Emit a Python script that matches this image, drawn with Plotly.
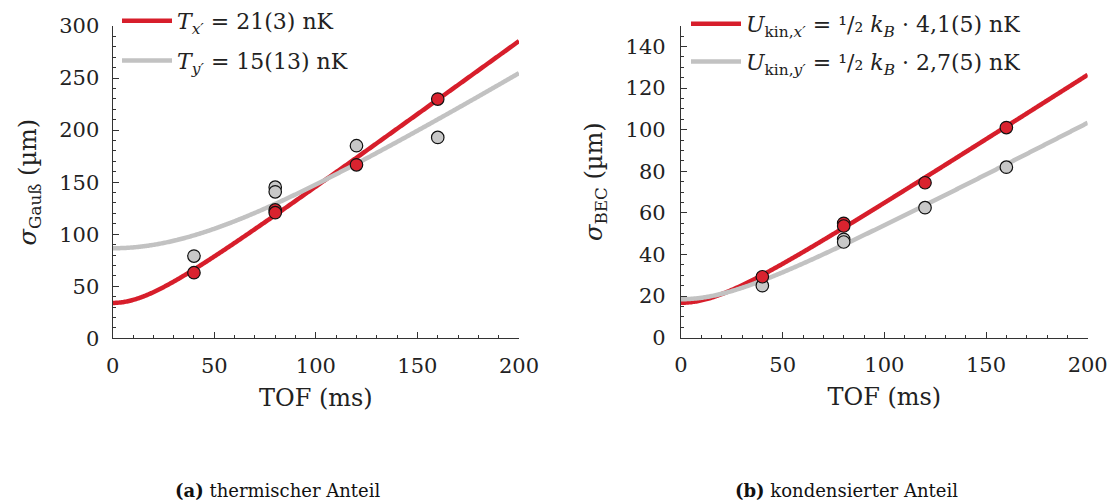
import numpy as np
import plotly.graph_objects as go

# ---- data ----
tof_points = [40, 80, 80, 120, 160]  # ms
gauss_x = [63, 123.3, 120.7, 166.6, 229.8]   # µm, red
gauss_y = [79, 145.2, 140.7, 185, 193]       # µm, gray
bec_x = [29.3, 55.0, 53.7, 74.5, 101]        # µm, red
bec_y = [25, 47.3, 46.0, 62.5, 82]           # µm, gray

# fit parameters (ballistic expansion, Rb-87): sigma0 (µm), T (nK)
fit_gauss_x = (34.0, 21.0)
fit_gauss_y = (86.5, 15.0)
fit_bec_x = (16.8, 4.1)
fit_bec_y = (18.5, 2.7)

KB_OVER_M = 0.09567  # µm^2 / (ms^2 nK) for Rb-87

legend_gauss = ["<i>T</i><sub><i>x′</i></sub> = 21(3) nK",
                "<i>T</i><sub><i>y′</i></sub> = 15(13) nK"]
legend_bec = ["<i>U</i><sub>kin,<i>x′</i></sub> = ¹/₂ <i>k</i><sub><i>B</i></sub> · 4,1(5) nK",
              "<i>U</i><sub>kin,<i>y′</i></sub> = ¹/₂ <i>k</i><sub><i>B</i></sub> · 2,7(5) nK"]
captions = ["<b>(a)</b> thermischer Anteil", "<b>(b)</b> kondensierter Anteil"]
ytitles = ["<i>σ</i><sub>Gauß</sub> (µm)", "<i>σ</i><sub>BEC</sub> (µm)"]
xtitle = "TOF (ms)"

RED = "#D71E2B"
RED_FILL = "#D9232F"
GRAY = "#C2C2C2"
GRAY_FILL = "#C8C8C8"
FONT = "DejaVu Serif"

t_fit = np.linspace(0, 200, 401)


def model(p):
    s0, T = p
    return np.sqrt(s0 ** 2 + KB_OVER_M * T * t_fit ** 2)


fig = go.Figure()

panels = [
    ("x", "y", "legend", fit_gauss_x, fit_gauss_y, gauss_x, gauss_y, legend_gauss),
    ("x2", "y2", "legend2", fit_bec_x, fit_bec_y, bec_x, bec_y, legend_bec),
]
for i, (xa, ya, lg, fx, fy, px, py, names) in enumerate(panels):
    fig.add_trace(go.Scatter(x=t_fit, y=model(fx), mode="lines", xaxis=xa, yaxis=ya,
                             line=dict(color=RED, width=4.5, simplify=False),
                             name=names[0], legend=lg, legendgroup=f"r{i}",
                             hoverinfo="skip"))
    fig.add_trace(go.Scatter(x=t_fit, y=model(fy), mode="lines", xaxis=xa, yaxis=ya,
                             line=dict(color=GRAY, width=4.5, simplify=False),
                             name=names[1], legend=lg, legendgroup=f"g{i}",
                             hoverinfo="skip"))
    fig.add_trace(go.Scatter(x=tof_points, y=py, mode="markers", xaxis=xa, yaxis=ya,
                             marker=dict(size=12.5, color=GRAY_FILL,
                                         line=dict(color="#111", width=1.2)),
                             showlegend=False))
    fig.add_trace(go.Scatter(x=tof_points, y=px, mode="markers", xaxis=xa, yaxis=ya,
                             marker=dict(size=12.5, color=RED_FILL,
                                         line=dict(color="#111", width=1.2)),
                             showlegend=False))

W, H = 1114, 502
axis_common = dict(
    showline=True, linecolor="#333", linewidth=1.3, mirror=False,
    ticks="inside", ticklen=6, tickwidth=1, tickcolor="#333",
    showgrid=False, zeroline=False,
    tickfont=dict(family=FONT, size=21, color="#222"),
    automargin=False,
)

fig.update_layout(
    width=W, height=H,
    margin=dict(l=0, r=0, t=0, b=0),
    paper_bgcolor="white", plot_bgcolor="white",
    font=dict(family=FONT, color="#222"),
    xaxis=dict(domain=[112.7 / W, 519 / W], range=[0, 200], dtick=50, tick0=0,
               minor=dict(dtick=10, ticks="inside", ticklen=3, tickcolor="#333"),
               ticklabelstandoff=8,
               title=dict(text=xtitle, font=dict(family=FONT, size=24), standoff=12),
               anchor="y", **axis_common),
    yaxis=dict(domain=[(H - 338.3) / H, (H - 26) / H], range=[0, 300], dtick=50, tick0=0,
               minor=dict(dtick=10, ticks="inside", ticklen=3, tickcolor="#333"),
               ticklabelstandoff=8,
               title=dict(text=ytitles[0], font=dict(family=FONT, size=24), standoff=15),
               anchor="x", **axis_common),
    xaxis2=dict(domain=[681 / W, 1087.7 / W], range=[0, 200], dtick=50, tick0=0,
                minor=dict(dtick=10, ticks="inside", ticklen=3, tickcolor="#333"),
                ticklabelstandoff=8,
                title=dict(text=xtitle, font=dict(family=FONT, size=24), standoff=12),
                anchor="y2", **axis_common),
    yaxis2=dict(domain=[(H - 337.7) / H, (H - 25.7) / H], range=[0, 150],
                tickvals=[0, 20, 40, 60, 80, 100, 120, 140],
                minor=dict(dtick=5, ticks="inside", ticklen=3, tickcolor="#333"),
                ticklabelstandoff=10,
                title=dict(text=ytitles[1], font=dict(family=FONT, size=24), standoff=16),
                anchor="x2", **axis_common),
    legend=dict(x=117 / W, y=1.0, xanchor="left", yanchor="top",
                bgcolor="rgba(0,0,0,0)", itemwidth=50, tracegroupgap=8,
                traceorder="grouped",
                font=dict(family=FONT, size=22, color="#222")),
    legend2=dict(x=686 / W, y=(H - 3) / H, xanchor="left", yanchor="top",
                 bgcolor="rgba(0,0,0,0)", itemwidth=50, tracegroupgap=6,
                 traceorder="grouped",
                 font=dict(family=FONT, size=22, color="#222")),
    showlegend=True,
)

for txt, cx in zip(captions, [277, 846]):
    fig.add_annotation(text=txt, x=cx / W, y=(H - 490) / H, xref="paper", yref="paper",
                       xanchor="center", yanchor="middle", showarrow=False,
                       font=dict(family=FONT, size=18, color="#111"))

fig.write_html("out.html", config={"displayModeBar": False},
               post_script="document.body.style.margin='0';document.body.style.overflow='hidden';")
